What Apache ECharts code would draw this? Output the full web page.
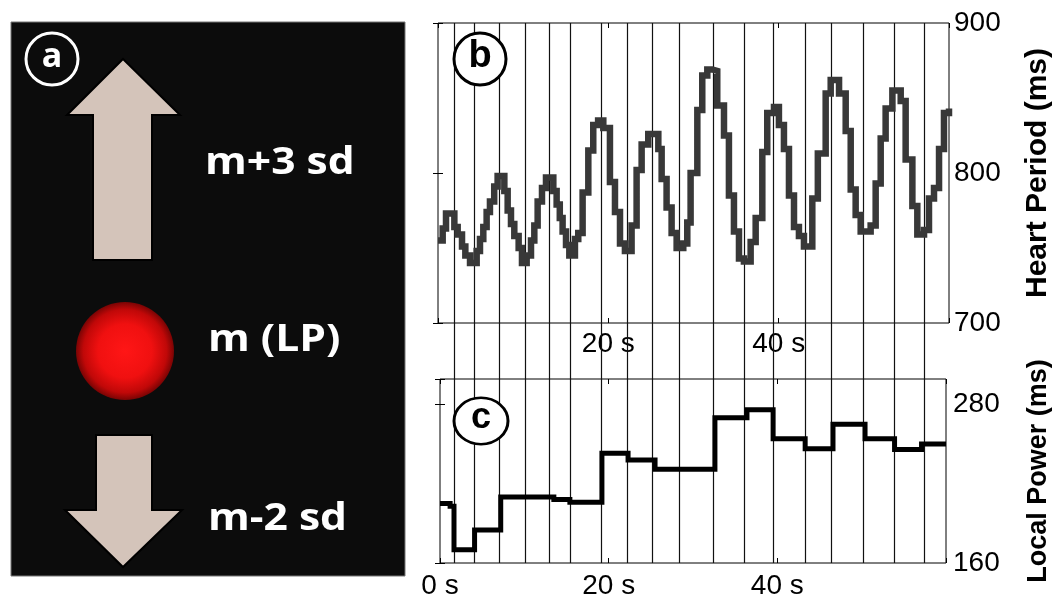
<!DOCTYPE html>
<html><head><meta charset="utf-8">
<script src="https://cdn.jsdelivr.net/npm/echarts@6/dist/echarts.min.js"></script>
<style>html,body{margin:0;padding:0;background:#fff}#c{width:1064px;height:600px}</style>
</head><body><div id="c"></div>
<script>
// Heart period (ms), beat-by-beat step series: start time (s) of each step and its value
const hpTime = [0,0.55,0.94,1.92,2.31,2.82,3.21,3.76,4.54,4.93,5.32,5.71,6.1,6.6,7.0,7.79,8.18,8.57,8.96,9.47,9.86,10.41,10.92,11.31,11.7,12.21,12.68,13.54,13.93,14.3,14.63,15.03,15.42,16.08,16.47,16.98,17.65,18.23,18.8,19.41,20.19,20.78,21.37,21.95,22.73,23.32,23.91,24.69,25.87,26.26,26.84,27.43,28.02,28.8,29.27,29.66,30.45,31.03,31.62,32.2,32.79,33.58,34.16,34.75,35.34,35.92,36.71,37.3,38.08,38.66,39.45,40.03,40.62,41.21,41.8,42.38,42.97,43.95,44.6,45.52,46.11,47.09,47.87,48.46,49.04,49.63,50.8,51.39,51.98,52.56,53.35,54.33,54.91,55.7,56.28,57.07,57.65,58.24,58.83,59.41,60];
const hpValue = [755,763,773,764,759,751,745,740,748,756,764,774,781,791,798,788,775,766,758,750,740,745,755,765,781,790,797,788,779,770,761,752,745,756,760,787,815,832,835,830,794,774,753,748,765,802,819,826,816,796,777,760,750,753,767,800,842,865,869,868,845,825,785,761,743,741,754,770,814,840,844,832,816,785,764,758,751,783,813,853,862,853,828,789,772,761,765,793,823,843,855,848,809,778,759,762,783,790,816,840,843];
// Local power (ms): step start times (s) and values
const lpTime = [0,1.2,1.66,4.1,7.2,13.5,15.4,19.2,22.3,25.5,32.6,36.4,39.5,43.3,46.6,50.4,53.9,57.1,60];
const lpValue = [205,203,170,185,210,208,206,243,238,231,270,276,254,246.5,265,254,246,250,250];
// Vertical marker lines (s)
const markerTime = [1.66,4.08,7.04,10.06,12.96,15.44,19.11,22.19,25.15,28.34,32.37,35.98,39.47,43.2,46.33,50.12,53.79,57.34];
// Tick labels
const hpXLabels = [20, 40];
const lpXLabels = [0, 20, 40];
const hpYTicks = [700, 800, 900];
const lpYTicks = [160, 280];
// Panel a labels
const panelTexts = ['m+3 sd', 'm (LP)', 'm-2 sd'];

const chart = echarts.init(document.getElementById('c'), null, {renderer: 'canvas'});
const lblFont = {color: '#000', fontSize: 28, fontFamily: '"Liberation Sans", Arial, sans-serif'};
const nameFontHP = {color: '#000', fontSize: 30, fontWeight: 'bold', fontFamily: '"Liberation Sans", Arial, sans-serif'};
const nameFontLP = {color: '#000', fontSize: 27, fontWeight: 'bold', fontFamily: '"Liberation Sans", Arial, sans-serif'};
const tickIn = {show: true, inside: true, length: 5, lineStyle: {color: '#000', width: 1}};
const noLine = {show: false};
const gridBox = {show: true, borderColor: '#000', borderWidth: 1, backgroundColor: 'transparent', containLabel: false};

const beige = '#d4c4ba';
const sansBold = 'bold 38px "Open Sans", "Noto Sans", sans-serif';

const option = {
  animation: false,
  backgroundColor: '#fff',
  grid: [
    Object.assign({left: 438, top: 23, width: 511, height: 300}, gridBox),
    Object.assign({left: 440, top: 379, width: 506, height: 184}, gridBox),
    {left: 439.5, top: 23, width: 507, height: 540, show: false}
  ],
  xAxis: [
    {gridIndex: 0, type: 'value', min: 0, max: 60, interval: 20, position: 'bottom', axisLine: noLine, axisTick: tickIn, splitLine: {show: false},
      axisLabel: Object.assign({margin: 7, formatter: v => hpXLabels.includes(v) ? v + ' s' : ''}, lblFont)},
    {gridIndex: 0, type: 'value', min: 0, max: 60, interval: 20, position: 'top', axisLine: noLine, axisTick: tickIn, splitLine: {show: false}, axisLabel: {show: false}},
    {gridIndex: 1, type: 'value', min: 0, max: 60, interval: 20, position: 'bottom', axisLine: noLine, axisTick: tickIn, splitLine: {show: false},
      axisLabel: Object.assign({margin: 9, formatter: v => lpXLabels.includes(v) ? v + ' s' : ''}, lblFont)},
    {gridIndex: 1, type: 'value', min: 0, max: 60, interval: 20, position: 'top', axisLine: noLine, axisTick: tickIn, splitLine: {show: false}, axisLabel: {show: false}},
    {gridIndex: 2, type: 'value', min: 0, max: 60, show: false}
  ],
  yAxis: [
    {gridIndex: 0, type: 'value', min: 700, max: 900, interval: 100, position: 'right', axisLine: noLine, axisTick: tickIn, splitLine: {show: false},
      axisLabel: Object.assign({margin: 5, formatter: v => hpYTicks.includes(v) ? String(v) : ''}, lblFont),
      name: 'Heart Period (ms)', nameLocation: 'middle', nameRotate: 90, nameGap: 74, nameTextStyle: nameFontHP},
    {gridIndex: 0, type: 'value', min: 700, max: 900, interval: 100, position: 'left', axisLine: noLine, axisTick: tickIn, splitLine: {show: false}, axisLabel: {show: false}},
    {gridIndex: 1, type: 'value', min: 160, max: 299.3, interval: 120, position: 'right', axisLine: noLine, axisTick: tickIn, splitLine: {show: false},
      axisLabel: Object.assign({margin: 7, formatter: v => lpYTicks.includes(v) ? String(v) : ''}, lblFont),
      name: 'Local Power (ms)', nameLocation: 'middle', nameRotate: 90, nameGap: 79, nameTextStyle: nameFontLP},
    {gridIndex: 1, type: 'value', min: 160, max: 299.3, interval: 120, position: 'left', axisLine: noLine, axisTick: tickIn, splitLine: {show: false}, axisLabel: {show: false}},
    {gridIndex: 2, type: 'value', min: 0, max: 1, show: false}
  ],
  series: [
    {
      type: 'custom', xAxisIndex: 4, yAxisIndex: 4, z: 1,
      data: markerTime.map(t => [t, 0]),
      encode: {x: 0, y: 1},
      renderItem: (params, api) => {
        const p0 = api.coord([api.value(0), 0]);
        const p1 = api.coord([api.value(0), 1]);
        const x = Math.round(p0[0]) + 0.5;
        return {type: 'line', shape: {x1: x, y1: p1[1], x2: x, y2: p0[1]}, style: {stroke: '#111', lineWidth: 1.2}};
      }
    },
    {
      type: 'line', xAxisIndex: 0, yAxisIndex: 0, z: 3, step: 'end', showSymbol: false, symbol: 'none',
      data: hpTime.map((t, i) => [t, hpValue[i]]),
      lineStyle: {color: '#383838', width: 6.5, join: 'miter'}
    },
    {
      type: 'line', xAxisIndex: 2, yAxisIndex: 2, z: 3, step: 'end', showSymbol: false, symbol: 'none',
      data: lpTime.map((t, i) => [t, lpValue[i]]),
      lineStyle: {color: '#000', width: 5, join: 'miter'}
    }
  ],
  graphic: [
    // panel a background
    {type: 'rect', z: 10, shape: {x: 11, y: 22, width: 394, height: 554}, style: {fill: '#0c0c0c', stroke: '#777', lineWidth: 1}},
    // up arrow
    {type: 'polygon', z: 11, shape: {points: [[123, 59], [180, 115], [152, 115], [152, 260], [93, 260], [93, 115], [67, 115]]}, style: {fill: beige, stroke: '#000', lineWidth: 2}},
    // down arrow
    {type: 'polygon', z: 11, shape: {points: [[96, 435], [152, 435], [152, 510], [182, 510], [123, 567], [65, 510], [96, 510]]}, style: {fill: beige, stroke: '#000', lineWidth: 2}},
    // red sphere
    {type: 'circle', z: 11, shape: {cx: 125, cy: 351, r: 49},
      style: {fill: new echarts.graphic.RadialGradient(0.5, 0.5, 0.5, [
        {offset: 0, color: '#ff1616'}, {offset: 0.55, color: '#f01010'}, {offset: 0.85, color: '#c00808'}, {offset: 1, color: '#7a0404'}])}},
    // circle a
    {type: 'circle', z: 11, shape: {cx: 52, cy: 59, r: 26}, style: {fill: '#0c0c0c', stroke: '#fff', lineWidth: 3}},
    {type: 'text', z: 12, x: 52, y: 57, style: {text: 'a', fill: '#fff', font: 'bold 34px "Open Sans", "Noto Sans", sans-serif', textAlign: 'center', textVerticalAlign: 'middle'}},
    // panel a texts
    {type: 'text', z: 12, x: 205, y: 163, scaleX: 1.12, style: {text: panelTexts[0], fill: '#fff', font: sansBold, textAlign: 'left', textVerticalAlign: 'middle'}},
    {type: 'text', z: 12, x: 208, y: 340, scaleX: 1.12, style: {text: panelTexts[1], fill: '#fff', font: sansBold, textAlign: 'left', textVerticalAlign: 'middle'}},
    {type: 'text', z: 12, x: 208, y: 519, scaleX: 1.12, style: {text: panelTexts[2], fill: '#fff', font: sansBold, textAlign: 'left', textVerticalAlign: 'middle'}},
    // circle b
    {type: 'circle', z: 100, shape: {cx: 480, cy: 59, r: 26}, style: {fill: '#fff', stroke: '#000', lineWidth: 3}},
    {type: 'text', z: 101, x: 480, y: 57, style: {text: 'b', fill: '#000', font: 'bold 38px "Liberation Sans", Arial, sans-serif', textAlign: 'center', textVerticalAlign: 'middle'}},
    // circle c
    {type: 'circle', z: 100, x: 481, y: 421, scaleY: 0.86, shape: {cx: 0, cy: 0, r: 27}, style: {fill: '#fff', stroke: '#000', lineWidth: 3}},
    {type: 'text', z: 101, x: 481, y: 418, style: {text: 'c', fill: '#000', font: 'bold 36px "Liberation Sans", Arial, sans-serif', textAlign: 'center', textVerticalAlign: 'middle'}}
  ]
};
chart.setOption(option);
</script></body></html>
